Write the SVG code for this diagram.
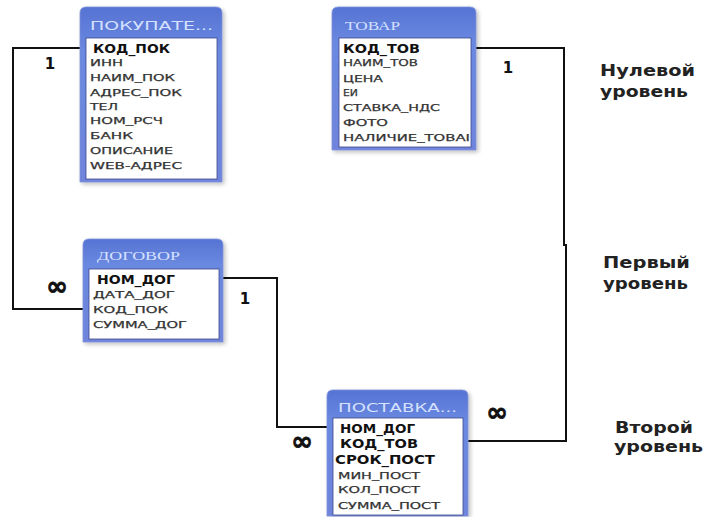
<svg xmlns="http://www.w3.org/2000/svg" width="704" height="517" viewBox="0 0 704 517">
<defs>
<linearGradient id="hdr" x1="0" y1="0" x2="0" y2="1">
<stop offset="0" stop-color="#5673d4"/>
<stop offset="0.25" stop-color="#6a89e0"/>
<stop offset="1" stop-color="#6f84dc"/>
</linearGradient>
<filter id="sh" x="-10%" y="-10%" width="130%" height="130%">
<feGaussianBlur in="SourceAlpha" stdDeviation="2"/>
<feOffset dx="2" dy="2"/>
<feComponentTransfer><feFuncA type="linear" slope="0.25"/></feComponentTransfer>
<feMerge><feMergeNode/><feMergeNode in="SourceGraphic"/></feMerge>
</filter>
</defs>
<style>
.frame{fill:url(#hdr);stroke:#7d8fd8;stroke-width:0.8;filter:url(#sh)}
.body{fill:#ffffff;stroke:#3c4788;stroke-width:0.8}
.hs{font-family:"DejaVu Sans","Liberation Sans",sans-serif;font-size:12px;fill:#d6e2ff}
.hf{font-family:"Liberation Serif","DejaVu Serif",serif;font-size:13px;fill:#d6e2ff}
.f{font-family:"DejaVu Sans","Liberation Sans",sans-serif;font-size:9.5px;fill:#333;stroke:#333;stroke-width:0.25}
.k{font-family:"DejaVu Sans","Liberation Sans",sans-serif;font-size:11.5px;font-weight:bold;fill:#111}
.lbl{font-family:"DejaVu Sans","Liberation Sans",sans-serif;font-size:15px;font-weight:bold;fill:#222}
.card{font-family:"DejaVu Sans","Liberation Sans",sans-serif;font-weight:bold;fill:#111}
.inf{stroke:#111;stroke-width:0.8}
.conn{fill:none;stroke:#111;stroke-width:2}
</style>
<rect width="704" height="517" fill="#ffffff"/>

<g id="connectors">
<path class="conn" d="M80,48 H13 V309 H83"/>
<path class="conn" d="M223,278 H277 V427 H327"/>
<path class="conn" d="M476,48 H564 V245 H566 V441 H468"/>
</g>

<g id="cardinalities">
<text class="card" x="50" y="69" font-size="15" text-anchor="middle">1</text>
<text class="card" x="508" y="73" font-size="15" text-anchor="middle">1</text>
<text class="card" x="245" y="304" font-size="15" text-anchor="middle">1</text>
<text class="card inf" x="57" y="295" font-size="26" text-anchor="middle">∞</text>
<text class="card inf" x="302" y="450" font-size="26" text-anchor="middle">∞</text>
<text class="card inf" x="497" y="421" font-size="26" text-anchor="middle">∞</text>
</g>

<g id="node-pokupatel">
<path class="frame" d="M80,182 V13 Q80,7 86,7 H216 Q222,7 222,13 V182 Z"/>
<rect class="body" x="86" y="38" width="131" height="141"/>
<text class="hs" x="90" y="30" textLength="123" lengthAdjust="spacingAndGlyphs">ПОКУПАТЕ...</text>
<text class="k" x="93" y="52.5" textLength="77" lengthAdjust="spacingAndGlyphs">КОД_ПОК</text>
<text class="f" x="90" y="65.5" textLength="33" lengthAdjust="spacingAndGlyphs">ИНН</text>
<text class="f" x="90" y="81" textLength="85" lengthAdjust="spacingAndGlyphs">НАИМ_ПОК</text>
<text class="f" x="90" y="96" textLength="92" lengthAdjust="spacingAndGlyphs">АДРЕС_ПОК</text>
<text class="f" x="90" y="110" textLength="28" lengthAdjust="spacingAndGlyphs">ТЕЛ</text>
<text class="f" x="90" y="124" textLength="73" lengthAdjust="spacingAndGlyphs">НОМ_РСЧ</text>
<text class="f" x="90" y="139" textLength="43" lengthAdjust="spacingAndGlyphs">БАНК</text>
<text class="f" x="90" y="154" textLength="83" lengthAdjust="spacingAndGlyphs">ОПИСАНИЕ</text>
<text class="f" x="90" y="169" textLength="92" lengthAdjust="spacingAndGlyphs">WEB-АДРЕС</text>
</g>

<g id="node-tovar">
<path class="frame" d="M332,150 V13 Q332,7 338,7 H470 Q476,7 476,13 V150 Z"/>
<rect class="body" x="339" y="38" width="132" height="109"/>
<text class="hf" x="345" y="30" textLength="55" lengthAdjust="spacingAndGlyphs">ТОВАР</text>
<text class="k" x="343" y="52.5" textLength="77" lengthAdjust="spacingAndGlyphs">КОД_ТОВ</text>
<text class="f" x="343" y="65.5" textLength="75" lengthAdjust="spacingAndGlyphs">НАИМ_ТОВ</text>
<text class="f" x="343" y="81.5" textLength="40" lengthAdjust="spacingAndGlyphs">ЦЕНА</text>
<text class="f" x="343" y="95.5" textLength="15" lengthAdjust="spacingAndGlyphs">ЕИ</text>
<text class="f" x="343" y="110.5" textLength="97" lengthAdjust="spacingAndGlyphs">СТАВКА_НДС</text>
<text class="f" x="343" y="125.5" textLength="45" lengthAdjust="spacingAndGlyphs">ФОТО</text>
<text class="f" x="343" y="140.5" textLength="127" lengthAdjust="spacingAndGlyphs">НАЛИЧИЕ_ТОВАІ</text>
</g>

<g id="node-dogovor">
<path class="frame" d="M83,342 V245 Q83,239 89,239 H217 Q223,239 223,245 V342 Z"/>
<rect class="body" x="89" y="269" width="130" height="70"/>
<text class="hf" x="97" y="260" textLength="83" lengthAdjust="spacingAndGlyphs">ДОГОВОР</text>
<text class="k" x="97" y="283.5" textLength="78" lengthAdjust="spacingAndGlyphs">НОМ_ДОГ</text>
<text class="f" x="93" y="297.5" textLength="82" lengthAdjust="spacingAndGlyphs">ДАТА_ДОГ</text>
<text class="f" x="93" y="312.5" textLength="75" lengthAdjust="spacingAndGlyphs">КОД_ПОК</text>
<text class="f" x="93" y="327.5" textLength="94" lengthAdjust="spacingAndGlyphs">СУММА_ДОГ</text>
</g>

<g id="node-postavka">
<path class="frame" d="M327,516 V396 Q327,390 333,390 H462 Q468,390 468,396 V516 Z"/>
<rect class="body" x="333" y="418" width="130" height="97"/>
<text class="hs" x="338" y="412" textLength="119" lengthAdjust="spacingAndGlyphs">ПОСТАВКА...</text>
<text class="k" x="340" y="432.5" textLength="75" lengthAdjust="spacingAndGlyphs">НОМ_ДОГ</text>
<text class="k" x="340" y="447.5" textLength="78" lengthAdjust="spacingAndGlyphs">КОД_ТОВ</text>
<text class="k" x="335" y="463.5" textLength="100" lengthAdjust="spacingAndGlyphs">СРОК_ПОСТ</text>
<text class="f" x="338" y="478.5" textLength="82" lengthAdjust="spacingAndGlyphs">МИН_ПОСТ</text>
<text class="f" x="338" y="492.5" textLength="82" lengthAdjust="spacingAndGlyphs">КОЛ_ПОСТ</text>
<text class="f" x="338" y="508.5" textLength="102" lengthAdjust="spacingAndGlyphs">СУММА_ПОСТ</text>
</g>

<g id="levels">
<text class="lbl" x="600" y="75.5" textLength="95" lengthAdjust="spacingAndGlyphs">Нулевой</text>
<text class="lbl" x="600" y="97" textLength="88" lengthAdjust="spacingAndGlyphs">уровень</text>
<text class="lbl" x="603" y="267.5" textLength="87" lengthAdjust="spacingAndGlyphs">Первый</text>
<text class="lbl" x="603" y="289" textLength="85" lengthAdjust="spacingAndGlyphs">уровень</text>
<text class="lbl" x="615" y="432.5" textLength="78" lengthAdjust="spacingAndGlyphs">Второй</text>
<text class="lbl" x="614" y="452" textLength="89" lengthAdjust="spacingAndGlyphs">уровень</text>
</g>
</svg>
